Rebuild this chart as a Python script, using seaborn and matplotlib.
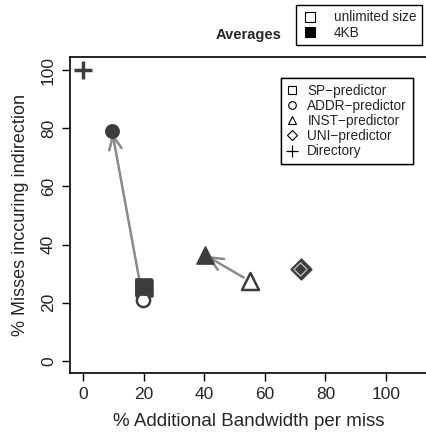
import pandas as pd
import seaborn as sns
import matplotlib.pyplot as plt
from matplotlib.lines import Line2D

sns.set_style("white")
plt.rcParams['font.family'] = ['Liberation Sans', 'DejaVu Sans']

# averages per predictor
predictors = ['SP', 'ADDR', 'INST', 'UNI']
markers = ['s', 'o', '^', 'D']
unlim_bw = [20, 19.8, 55, 71.8]
unlim_miss = [25, 21, 27.5, 31.5]
kb4_bw = [20, 9.6, 40.3, 71.8]
kb4_miss = [25.5, 79, 36.4, 31.6]
dir_bw = [0]
dir_miss = [100]

df = pd.DataFrame({
    'pred': predictors * 2,
    'size': ['unlimited'] * 4 + ['4KB'] * 4,
    'bw': unlim_bw + kb4_bw,
    'miss': unlim_miss + kb4_miss,
})

dark = '#3c3c3c'
arrow_c = '#8a8a8a'

fig = plt.figure(figsize=(4.27, 4.33), dpi=100)
ax = fig.add_axes([70 / 427, 60 / 433, 357 / 427, 316 / 433])

# arrows unlimited -> 4KB
for i in [1, 2]:
    ax.annotate('', xy=(kb4_bw[i], kb4_miss[i]), xytext=(unlim_bw[i], unlim_miss[i]),
                arrowprops=dict(arrowstyle='->,head_length=1.0,head_width=0.45',
                                color=arrow_c, lw=1.8, shrinkA=5, shrinkB=1),
                zorder=2)

for i, p in enumerate(predictors):
    sub = df[df['pred'] == p]
    u = sub[sub['size'] == 'unlimited']
    k = sub[sub['size'] == '4KB']
    if p == 'UNI':
        sns.scatterplot(data=k, x='bw', y='miss', marker='D', s=110, color=dark,
                        edgecolor=dark, linewidth=1.2, ax=ax, zorder=3)
        sns.scatterplot(data=u, x='bw', y='miss', marker='D', s=45, facecolor='none',
                        edgecolor='#b5b5b5', linewidth=1.0, ax=ax, zorder=4)
        continue
    sz = {'s': 120, 'o': 90, '^': 150}[markers[i]]
    sns.scatterplot(data=u, x='bw', y='miss', marker=markers[i], s=sz, facecolor='white',
                    edgecolor=dark, linewidth=1.8, ax=ax, zorder=3)
    sns.scatterplot(data=k, x='bw', y='miss', marker=markers[i], s=sz, color=dark,
                    edgecolor=dark, linewidth=1.2, ax=ax, zorder=4)

sns.scatterplot(x=dir_bw, y=dir_miss, marker='+', s=170, color=dark, linewidth=2.5,
                ax=ax, zorder=4)

ax.set_xlim(-4.3, 113.5)
ax.set_ylim(-4.1, 104.5)
ax.set_xticks([0, 20, 40, 60, 80, 100])
ax.set_yticks([0, 20, 40, 60, 80, 100])
ax.tick_params(axis='both', direction='out', length=6, width=1, color='black',
               labelsize=12.5, bottom=True, left=True, pad=4)
for lab in ax.get_yticklabels():
    lab.set_rotation(90)
    lab.set_va('center')
ax.set_xlabel('% Additional Bandwidth per miss', fontsize=13.5, labelpad=8)
ax.set_ylabel('% Misses inccuring indirection', fontsize=13, labelpad=9)
for s in ['left', 'bottom', 'top']:
    ax.spines[s].set_color('black')
    ax.spines[s].set_linewidth(1.2)
ax.spines['right'].set_visible(False)

# legend of predictors
h1 = [Line2D([], [], marker=m, ls='none', mfc='none', mec='black', ms=5.5, mew=0.8)
      for m in ['s', 'o', '^', 'D']]
h1.append(Line2D([], [], marker='+', ls='none', mec='black', ms=8, mew=0.9))
leg1 = ax.legend(h1, ['SP\u2212predictor', 'ADDR\u2212predictor', 'INST\u2212predictor',
                      'UNI\u2212predictor', 'Directory'],
                 loc='upper right', bbox_to_anchor=(0.961, 0.934), fontsize=9.8,
                 frameon=True, fancybox=False, edgecolor='black', framealpha=1,
                 handlelength=0.8, handletextpad=0.7, labelspacing=0.08,
                 borderpad=0.45, borderaxespad=0)
leg1.get_frame().set_linewidth(1.0)
ax.add_artist(leg1)

# legend of sizes
h2 = [Line2D([], [], marker='s', ls='none', mfc='white', mec='black', ms=6.5, mew=0.8),
      Line2D([], [], marker='s', ls='none', mfc='black', mec='black', ms=6.5, mew=0.8)]
leg2 = fig.legend(h2, ['unlimited size', '4KB'], loc='upper right',
                  bbox_to_anchor=(422 / 427, 428 / 433), fontsize=9.8,
                  frameon=True, fancybox=False, edgecolor='black', framealpha=1,
                  handlelength=1.2, handletextpad=1.2, labelspacing=0.08,
                  borderpad=0.4, borderaxespad=0)
leg2.get_frame().set_linewidth(1.0)
fig.text(249 / 427, (433 - 35) / 433, 'Averages', fontsize=10.5, fontweight='bold',
         ha='center', va='center')

fig.savefig('out.png', dpi=100)
